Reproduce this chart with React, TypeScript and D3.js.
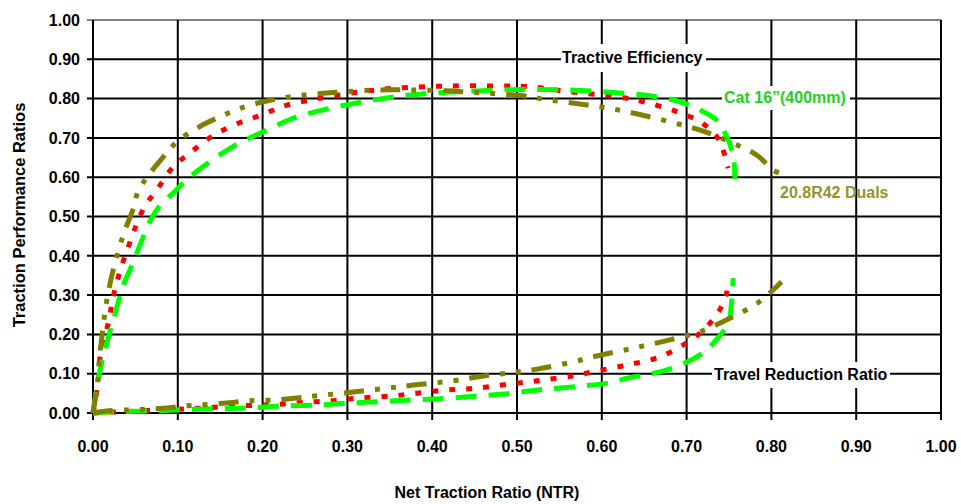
import React from "react";
import * as d3 from "d3";

type Pt = [number, number];

// Tick values
const xTicks: number[] = [0, 0.1, 0.2, 0.3, 0.4, 0.5, 0.6, 0.7, 0.8, 0.9, 1.0];
const yTicks: number[] = [0, 0.1, 0.2, 0.3, 0.4, 0.5, 0.6, 0.7, 0.8, 0.9, 1.0];

// Tractive efficiency curves
const dualsTE: Pt[] = [
  [0, 0], [0.0055, 0.08], [0.0075, 0.139], [0.011, 0.203], [0.015, 0.27], [0.021, 0.338],
  [0.028, 0.398], [0.037, 0.461], [0.047, 0.517], [0.053, 0.563], [0.064, 0.601], [0.083, 0.652],
  [0.099, 0.69], [0.126, 0.729], [0.15, 0.754], [0.173, 0.775], [0.205, 0.794], [0.244, 0.808],
  [0.287, 0.816], [0.338, 0.822], [0.374, 0.822], [0.417, 0.82], [0.44, 0.817], [0.472, 0.813],
  [0.515, 0.805], [0.527, 0.8], [0.598, 0.779], [0.629, 0.767], [0.68, 0.741], [0.716, 0.72],
  [0.751, 0.69], [0.783, 0.656], [0.802, 0.618], [0.81, 0.61],
];
const redTE: Pt[] = [
  [0, 0], [0.005, 0.06], [0.007, 0.097], [0.009, 0.152], [0.019, 0.237], [0.023, 0.288],
  [0.031, 0.355], [0.041, 0.419], [0.051, 0.478], [0.062, 0.529], [0.075, 0.567], [0.095, 0.627],
  [0.114, 0.661], [0.134, 0.695], [0.15, 0.716], [0.171, 0.737], [0.193, 0.754], [0.213, 0.771],
  [0.228, 0.783], [0.268, 0.801], [0.311, 0.816], [0.354, 0.826], [0.417, 0.832], [0.476, 0.832],
  [0.515, 0.83], [0.559, 0.818], [0.617, 0.805], [0.649, 0.792], [0.688, 0.767], [0.716, 0.741],
  [0.735, 0.705], [0.743, 0.669], [0.749, 0.623],
];
const catTE: Pt[] = [
  [0, 0], [0.006, 0.084], [0.011, 0.135], [0.02, 0.207], [0.029, 0.275], [0.035, 0.321],
  [0.047, 0.381], [0.057, 0.436], [0.068, 0.491], [0.078, 0.525], [0.098, 0.567], [0.11, 0.593],
  [0.13, 0.627], [0.165, 0.678], [0.205, 0.72], [0.236, 0.75], [0.279, 0.775], [0.319, 0.792],
  [0.358, 0.805], [0.394, 0.813], [0.437, 0.818], [0.48, 0.822], [0.515, 0.823], [0.559, 0.822],
  [0.61, 0.816], [0.657, 0.807], [0.692, 0.792], [0.716, 0.771], [0.735, 0.746], [0.747, 0.705],
  [0.755, 0.655], [0.757, 0.595],
];

// Travel reduction ratio curves
const dualsTRR: Pt[] = [
  [0, 0], [0.016, 0.005], [0.044, 0.008], [0.067, 0.01], [0.093, 0.014], [0.114, 0.019],
  [0.138, 0.022], [0.165, 0.027], [0.185, 0.031], [0.213, 0.033], [0.244, 0.039], [0.264, 0.044],
  [0.297, 0.051], [0.346, 0.063], [0.378, 0.071], [0.425, 0.082], [0.46, 0.094], [0.496, 0.103],
  [0.527, 0.113], [0.566, 0.13], [0.59, 0.143], [0.637, 0.165], [0.68, 0.186], [0.716, 0.207],
  [0.751, 0.241], [0.783, 0.279], [0.802, 0.313], [0.812, 0.334],
];
const redTRR: Pt[] = [
  [0, 0], [0.05, 0.005], [0.091, 0.009], [0.126, 0.012], [0.169, 0.018], [0.209, 0.021],
  [0.248, 0.027], [0.287, 0.032], [0.307, 0.037], [0.35, 0.043], [0.37, 0.047], [0.413, 0.058],
  [0.452, 0.063], [0.492, 0.074], [0.531, 0.084], [0.568, 0.095], [0.59, 0.105], [0.629, 0.122],
  [0.669, 0.143], [0.708, 0.19], [0.724, 0.22], [0.739, 0.262], [0.747, 0.304], [0.749, 0.334],
];
const catTRR: Pt[] = [
  [0, 0], [0.024, 0.003], [0.079, 0.006], [0.114, 0.009], [0.15, 0.011], [0.185, 0.013],
  [0.224, 0.018], [0.264, 0.02], [0.299, 0.025], [0.338, 0.029], [0.376, 0.033], [0.415, 0.037],
  [0.452, 0.043], [0.492, 0.05], [0.527, 0.059], [0.568, 0.067], [0.61, 0.077], [0.629, 0.088],
  [0.676, 0.109], [0.716, 0.148], [0.735, 0.186], [0.749, 0.228], [0.753, 0.279], [0.755, 0.343],
];

const W = 961;
const H = 504;
const FONT = "'Liberation Sans', Arial, Helvetica, sans-serif";

export default function App() {
  const x = d3.scaleLinear().domain([0, 1]).range([93, 941]);
  const y = d3.scaleLinear().domain([0, 1]).range([413, 20]);
  const line = d3
    .line<Pt>()
    .x((d) => x(d[0]))
    .y((d) => y(d[1]))
    .curve(d3.curveCatmullRom.alpha(0.5));

  const series = [
    { data: redTE, color: "#FF0000", dash: "6,11" },
    { data: redTRR, color: "#FF0000", dash: "6,11" },
    { data: catTE, color: "#00FF00", dash: "21,12" },
    { data: catTRR, color: "#00FF00", dash: "21,12" },
    { data: dualsTE, color: "#808000", dash: "20,11,5,11,5,11" },
    { data: dualsTRR, color: "#808000", dash: "20,11,5,11,5,11" },
  ];

  const fmt = d3.format(".2f");

  return (
    <svg
      width={W}
      height={H}
      style={{ position: "absolute", left: 0, top: 0, background: "#fff" }}
      fontFamily={FONT}
      fontWeight="bold"
    >
      <rect x={0} y={0} width={W} height={H} fill="#fff" />
      {/* grid */}
      {yTicks.map((t) => (
        <line
          key={"gy" + t}
          x1={87}
          x2={x(1)}
          y1={y(t)}
          y2={y(t)}
          stroke={t === 1 ? "#808080" : "#000"}
          strokeWidth={2}
        />
      ))}
      {xTicks.map((t) => (
        <line
          key={"gx" + t}
          x1={x(t)}
          x2={x(t)}
          y1={y(1)}
          y2={y(0) + 7}
          stroke="#000"
          strokeWidth={2}
        />
      ))}
      {/* tick labels */}
      {yTicks.map((t) => (
        <text
          key={"ty" + t}
          x={80}
          y={y(t)}
          dy="0.36em"
          textAnchor="end"
          fontSize={16}
          fill="#000"
        >
          {fmt(t)}
        </text>
      ))}
      {xTicks.map((t) => (
        <text
          key={"tx" + t}
          x={x(t)}
          y={452}
          textAnchor="middle"
          fontSize={16}
          fill="#000"
        >
          {fmt(t)}
        </text>
      ))}
      {/* curves */}
      {series.map((s, i) => (
        <path
          key={"s" + i}
          d={line(s.data) || ""}
          fill="none"
          stroke={s.color}
          strokeWidth={5}
          strokeDasharray={s.dash}
          strokeLinecap="butt"
          strokeLinejoin="round"
        />
      ))}
      {/* annotations */}
      <rect x={561} y={44} width={145} height={28} fill="#fff" />
      <text x={562} y={57} dy="0.36em" fontSize={16} fill="#000">
        Tractive Efficiency
      </text>
      <rect x={712} y={362} width={178} height={26} fill="#fff" />
      <text x={714} y={374} dy="0.36em" fontSize={16} fill="#000">
        Travel Reduction Ratio
      </text>
      <rect x={722} y={86} width={128} height={24} fill="#fff" />
      <text x={724} y={97} dy="0.36em" fontSize={16} fill="#1ED21E">
        Cat 16”(400mm)
      </text>
      <text x={780} y={192} dy="0.36em" fontSize={16} fill="#94942A">
        20.8R42 Duals
      </text>
      {/* axis titles */}
      <text x={487} y={492} dy="0.36em" textAnchor="middle" fontSize={16} fill="#000">
        Net Traction Ratio (NTR)
      </text>
      <text
        transform={`translate(19,${215}) rotate(-90)`}
        textAnchor="middle"
        dy="0.36em"
        fontSize={16.5}
        fill="#000"
      >
        Traction Performance Ratios
      </text>
    </svg>
  );
}
